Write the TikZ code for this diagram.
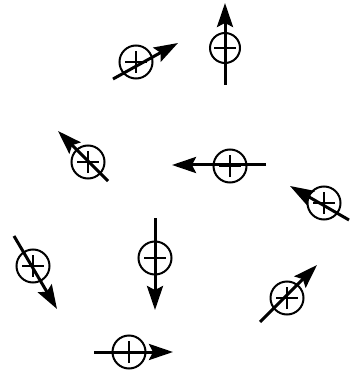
\documentclass[tikz,border=0pt]{standalone}
\usetikzlibrary{arrows.meta}
\tikzset{
  charge/.style={circle, draw, line width=2pt, minimum size=33pt, inner sep=0pt,
    path picture={
      \draw[line width=2pt]
        ([xshift=-11pt]path picture bounding box.center) -- ([xshift=11pt]path picture bounding box.center)
        ([yshift=-11pt]path picture bounding box.center) -- ([yshift=11pt]path picture bounding box.center);
    }},
  vec/.style={line width=3pt, -{Stealth[length=24pt, width=16pt, inset=4pt]}}
}
\begin{document}
\begin{tikzpicture}[x=1pt,y=-1pt]
\useasboundingbox (0,0) rectangle (349,371);
% charges
\node[charge] (c1) at (136,62) {};
\node[charge, minimum size=30pt] (c2) at (225,48) {};
\node[charge] (c3) at (88,162) {};
\node[charge] (c4) at (230,166) {};
\node[charge] (c5) at (324,203) {};
\node[charge] (c6) at (33,266) {};
\node[charge] (c7) at (155,258) {};
\node[charge] (c8) at (287,298) {};
\node[charge] (c9) at (129,352) {};
% arrow end points
\coordinate (t1) at (113,79);  \coordinate (h1) at (178,43);
\coordinate (t2) at (225,85);  \coordinate (h2) at (225,3);
\coordinate (t3) at (108,181); \coordinate (h3) at (58,131);
\coordinate (t4) at (266,165); \coordinate (h4) at (172,165);
\coordinate (t5) at (349,220); \coordinate (h5) at (290,186);
\coordinate (t6) at (14,236);  \coordinate (h6) at (57,309);
\coordinate (t7) at (155,218); \coordinate (h7) at (155,310);
\coordinate (t8) at (260,322); \coordinate (h8) at (317,265);
\coordinate (t9) at (94,352);  \coordinate (h9) at (173,352);
% arrows
\foreach \i in {1,...,9} {\draw[vec] (t\i) -- (h\i);}
\end{tikzpicture}
\end{document}
